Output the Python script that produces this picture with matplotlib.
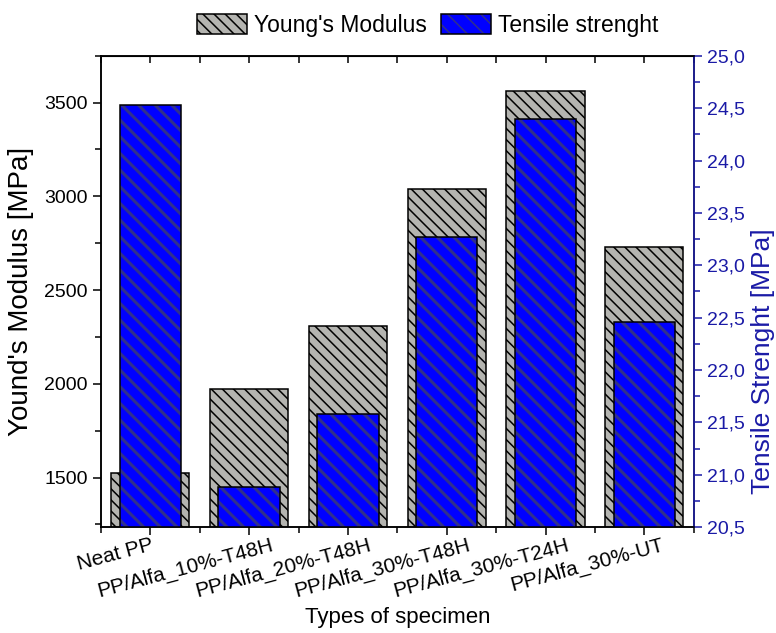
import numpy as np
import matplotlib
matplotlib.use('Agg')
import matplotlib.pyplot as plt
from matplotlib.patches import Patch
from matplotlib.ticker import FuncFormatter, MultipleLocator

# Podaci ocitani sa grafika
kategorije = ['Neat PP', 'PP/Alfa_10%-T48H', 'PP/Alfa_20%-T48H',
              'PP/Alfa_30%-T48H', 'PP/Alfa_30%-T24H', 'PP/Alfa_30%-UT']
young = [1525, 1970, 2310, 3040, 3560, 2730]
tensile = [24.53, 20.88, 21.58, 23.27, 24.40, 22.46]

plt.rcParams['font.family'] = ['Liberation Sans', 'DejaVu Sans']
plt.rcParams['hatch.linewidth'] = 1.1

siva = '#b4b4b0'
plava = '#0000ff'
srafura_plava = '#30308c'
tamnoplava = '#1a1aa6'

fig = plt.figure(figsize=(7.76, 6.33), dpi=100)
ax = fig.add_axes([0.130, 0.167, 0.764, 0.745])
ax2 = ax.twinx()
x = np.arange(len(kategorije))

# Young's modulus - sive sipke
ax.bar(x, young, width=0.79, color=siva, edgecolor='black',
       hatch='\\\\\\', linewidth=0)
ax.bar(x, young, width=0.79, fill=False, edgecolor='black', linewidth=1.1)

# Tensile strength - plave sipke
with plt.rc_context({'hatch.linewidth': 2.2}):
    ax2.bar(x, tensile, width=0.62, color=plava, edgecolor=srafura_plava,
            hatch='\\\\', linewidth=0)
ax2.bar(x, tensile, width=0.62, fill=False, edgecolor='black', linewidth=1.1)

ax.set_xlim(-0.5, 5.5)
ax.set_ylim(1235, 3750)
ax2.set_ylim(20.5, 25.0)

ax.set_xticks(x)
ax.set_xticklabels([])
ax.set_xticks(np.arange(-0.5, 6, 1), minor=True)
ax.tick_params(axis='x', which='major', direction='out', length=6, width=1.1)
ax.tick_params(axis='x', which='minor', direction='out', length=4, width=1.1)

# nazivi uzoraka, rotirani (kao u Originu: sidro oko 80% duzine teksta)
dy = -6
nazivi = []
for i, naziv in enumerate(kategorije):
    t = ax.annotate(naziv, xy=(x[i], 0), xycoords=ax.get_xaxis_transform(),
                    xytext=(0, dy), textcoords='offset points', fontsize=15,
                    rotation=15, ha='right', va='top', rotation_mode='anchor')
    nazivi.append(t)
fig.canvas.draw()
r = fig.canvas.get_renderer()
for t in nazivi:
    w = t.get_window_extent(r).width
    dx = (-17 + 0.21 * w) * 72 / fig.dpi
    t.set_position((dx, dy))

vrh = ax.secondary_xaxis('top')
vrh.set_xticks(np.arange(-0.5, 6, 0.5))
vrh.tick_params(direction='in', length=5, width=1.1, labeltop=False)

ax.yaxis.set_major_locator(MultipleLocator(500))
ax.yaxis.set_minor_locator(MultipleLocator(250))
ax.tick_params(axis='y', which='major', direction='out', length=6, width=1.1,
               labelsize=14)
ax.tick_params(axis='y', which='minor', direction='out', length=4, width=1.1)

ax2.yaxis.set_major_locator(MultipleLocator(0.5))
ax2.yaxis.set_minor_locator(MultipleLocator(0.25))
ax2.yaxis.set_major_formatter(FuncFormatter(lambda v, p: f'{v:.1f}'.replace('.', ',')))
ax2.tick_params(axis='y', which='major', direction='out', length=6, width=1.1,
                labelsize=14, colors=tamnoplava)
ax2.tick_params(axis='y', which='minor', direction='out', length=4, width=1.1,
                colors=tamnoplava)
for s in ['left', 'bottom', 'top', 'right']:
    ax.spines[s].set_linewidth(1.1)
    ax2.spines[s].set_linewidth(1.1)
ax2.spines['right'].set_color(tamnoplava)

ax.set_xlabel('Types of specimen', fontsize=16)
ax.xaxis.set_label_coords(0.5, -0.17)
ax.set_ylabel("Yound's Modulus [MPa]", fontsize=20)
ax.yaxis.set_label_coords(-0.113, 0.5)
ax2.set_ylabel('Tensile Strenght [MPa]', fontsize=19, color=tamnoplava)
ax2.yaxis.set_label_coords(1.097, 0.353)

h1 = (Patch(facecolor=siva, edgecolor='black', hatch='\\\\\\', linewidth=0),
      Patch(fill=False, edgecolor='black', linewidth=1.1))
h2 = (Patch(facecolor=plava, edgecolor=srafura_plava, hatch='\\\\', linewidth=0),
      Patch(fill=False, edgecolor='black', linewidth=1.1))
fig.legend([h1, h2], ["Young's Modulus", 'Tensile strenght'], ncol=2,
           loc='center', bbox_to_anchor=(0.551, 0.96), frameon=False,
           fontsize=16.5, handlelength=2.2, handleheight=1.0, handletextpad=0.3,
           columnspacing=0.6)

fig.savefig('out.png', dpi=100)
